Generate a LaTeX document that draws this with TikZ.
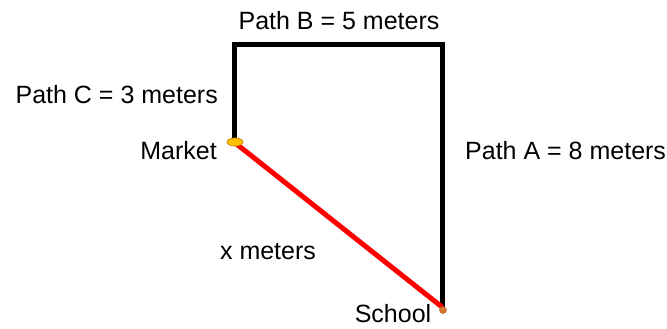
\documentclass[tikz,border=0pt]{standalone}
\usepackage{fontspec}
\setmainfont{Liberation Sans}
\usetikzlibrary{shapes.geometric}
\begin{document}
\begin{tikzpicture}[x=1pt,y=-1pt,
  lbl/.style={font=\fontsize{25}{28}\selectfont, inner sep=0pt},
  pathline/.style={line width=5pt, line cap=rect, line join=miter},
  redline/.style={line width=5pt, draw={rgb,255:red,255;green,0;blue,0}}]
\useasboundingbox (0,0) rectangle (667,329);
\coordinate (M) at (234,142);
\coordinate (TL) at (234,45);
\coordinate (TR) at (442,45);
\coordinate (S) at (442,307);
\draw[pathline] (M) -- (TL) -- (TR) -- (S);
\draw[redline] (M) -- (S);
\node[draw={rgb,255:red,200;green,140;blue,0}, line width=0.8pt, fill={rgb,255:red,255;green,192;blue,0}, ellipse, minimum width=16pt, minimum height=8pt, inner sep=0pt] (market) at (235,142) {};
\node[circle, fill={rgb,255:red,214;green,120;blue,48}, draw={rgb,255:red,190;green,100;blue,40}, line width=0.5pt, minimum size=7pt, inner sep=0pt] (school) at (443,310) {};
\node[lbl] (pb) at (339,21) {Path B = 5 meters};
\node[lbl, anchor=east] (pc) at (218,95) {Path C = 3 meters};
\node[lbl, anchor=east] (mk) at (217,151) {Market};
\node[lbl, anchor=west] (pa) at (465,151) {Path A = 8 meters};
\node[lbl] (xm) at (268,252) {x meters};
\node[lbl] (sc) at (393,314) {School};
\end{tikzpicture}
\end{document}
